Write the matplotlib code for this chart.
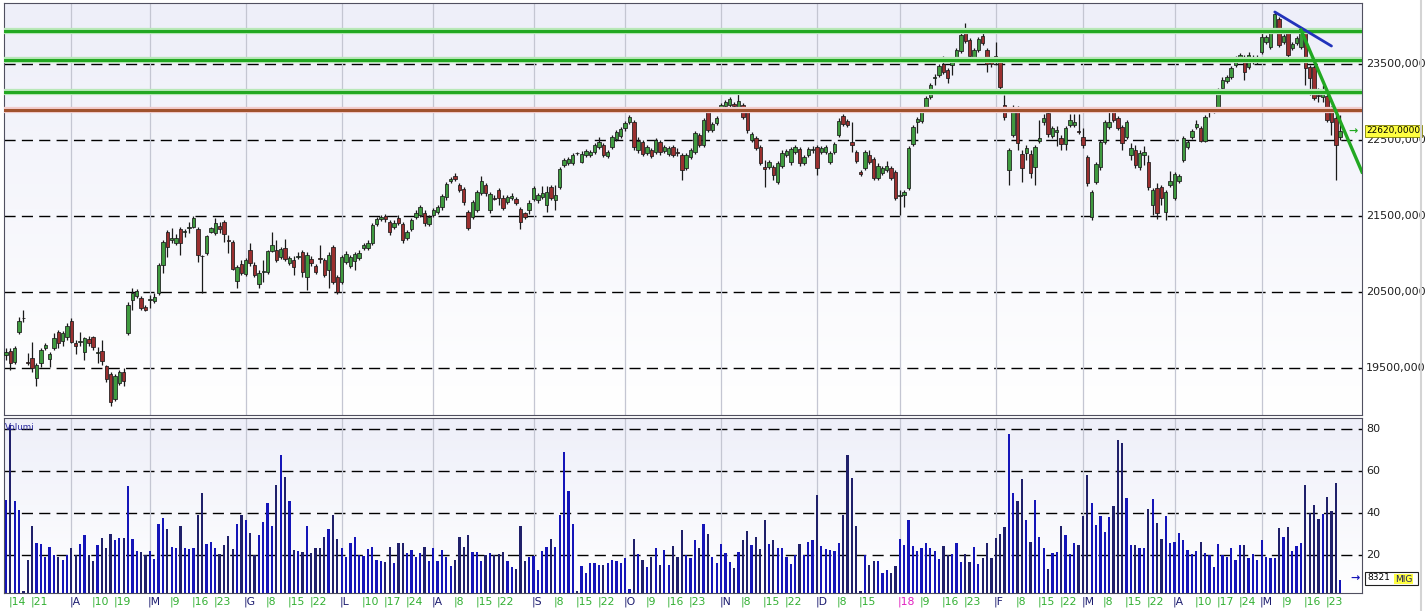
import matplotlib
matplotlib.use("Agg")
import matplotlib.pyplot as plt
from matplotlib.colors import LinearSegmentedColormap
from matplotlib.lines import Line2D
from matplotlib.patches import Rectangle
import numpy as np
import pandas as pd

# Borsa Italiana closing days inside the period
holidays = ["2017-04-14", "2017-04-17", "2017-05-01", "2017-12-25", "2017-12-26",
            "2018-01-01", "2018-03-30", "2018-04-02", "2018-05-01"]

opens = [
    19670, 19725, 19580, 19975, 20160, 19580, 19630, 19370, 19565, 19765,
    19620, 19765, 19975, 19855, 19910, 20120, 19830, 19840, 19710, 19880,
    19910, 19695, 19725, 19525, 19420, 19090, 19300, 19445, 19960, 20395,
    20445, 20420, 20300, 20395, 20380, 20485, 20855, 21290, 21185, 21145,
    21330, 21290, 21340, 21355, 21330, 20975, 21015, 21290, 21275, 21370,
    21420, 21185, 21160, 20645, 20870, 20735, 21050, 20855, 20605, 20765,
    20765, 21040, 21050, 20960, 21080, 20880, 20920, 20960, 21025, 20695,
    20935, 20840, 20945, 20920, 20790, 21090, 20695, 20630, 20895, 20840,
    20910, 20945, 21080, 21080, 21145, 21395, 21460, 21500, 21420, 21355,
    21475, 21395, 21210, 21330, 21485, 21515, 21540, 21395, 21515, 21555,
    21620, 21750, 21960, 22025, 21910, 21855, 21555, 21485, 21580, 21805,
    21910, 21580, 21735, 21840, 21735, 21685, 21735, 21725, 21590, 21540,
    21580, 21725, 21710, 21750, 21645, 21880, 21710, 21880, 22170, 22195,
    22195, 22330, 22210, 22305, 22305, 22340, 22410, 22435, 22290, 22410,
    22515, 22555, 22660, 22735, 22735, 22370, 22475, 22330, 22370, 22340,
    22475, 22355, 22315, 22410, 22340, 22305, 22130, 22275, 22340, 22565,
    22435, 22870, 22630, 22725, 22910, 22945, 22960, 22975, 22935, 22960,
    22870, 22500, 22525, 22410, 22145, 22145, 22145, 21945, 22160, 22305,
    22210, 22340, 22380, 22195, 22305, 22370, 22410, 22340, 22340, 22210,
    22340, 22565, 22815, 22750, 22475, 22340, 22080, 22130, 22305, 22250,
    22000, 22065, 22105, 22130, 22080, 21765, 21775, 21870, 22445, 22735,
    22750, 22910, 23065, 23315, 23355, 23500, 23420, 23485, 23580, 23670,
    23910, 23815, 23580, 23685, 23870, 23685, 23525, 23605, 23525, 22960,
    22105, 22565, 22870, 22315, 22330, 22315, 22145, 22485, 22735, 22855,
    22555, 22605, 22525, 22445, 22695, 22695, 22620, 22540, 22275, 21485,
    21945, 22145, 22475, 22670, 22870, 22790, 22670, 22540, 22305, 22370,
    22145, 22305, 22210, 21645, 21870, 21880, 21555, 21910, 21735, 21960,
    22235, 22410, 22540, 22670, 22660, 22485, 22870, 22880, 22895, 23185,
    23275, 23330, 23485, 23555, 23555, 23460, 23525, 23525, 23660, 23790,
    23725, 23945, 24090, 23790, 23910, 23710, 23775, 23725, 23910, 23460,
    23460, 23090, 23065, 23080, 22920, 22790, 22540,
]

highs = [
    19765, 19765, 19790, 20170, 20265, 19695, 19840, 19565, 19765, 19830,
    19710, 19960, 20000, 19985, 20090, 20160, 19870, 19975, 19910, 19920,
    19915, 19775, 19870, 19540, 19445, 19420, 19475, 19500, 20370, 20550,
    20540, 20445, 20330, 20460, 20485, 20880, 21185, 21315, 21340, 21265,
    21355, 21330, 21420, 21500, 21355, 20985, 21250, 21355, 21475, 21420,
    21445, 21250, 21185, 20855, 20920, 20945, 21145, 20895, 20790, 20920,
    21050, 21290, 21185, 21090, 21195, 20975, 20975, 21025, 21050, 21025,
    20975, 20870, 21120, 20945, 21025, 21120, 20725, 20985, 21040, 20985,
    21025, 21050, 21145, 21185, 21410, 21485, 21515, 21525, 21445, 21445,
    21515, 21420, 21315, 21475, 21580, 21645, 21580, 21515, 21605, 21645,
    21790, 21945, 22015, 22065, 21935, 21880, 21580, 21710, 21840, 22025,
    21935, 21815, 21775, 21870, 21775, 21775, 21805, 21750, 21620, 21555,
    21710, 21895, 21805, 21895, 21895, 21910, 21910, 22145, 22265, 22275,
    22330, 22340, 22355, 22380, 22370, 22460, 22540, 22460, 22370, 22565,
    22630, 22670, 22750, 22830, 22765, 22540, 22500, 22435, 22395, 22525,
    22500, 22435, 22420, 22435, 22395, 22330, 22330, 22395, 22620, 22590,
    22790, 22895, 22735, 22815, 22985, 23025, 23065, 23000, 23120, 22985,
    22895, 22605, 22555, 22435, 22235, 22235, 22170, 22225, 22370, 22380,
    22410, 22435, 22410, 22305, 22410, 22420, 22435, 22420, 22435, 22355,
    22475, 22790, 22840, 22775, 22735, 22370, 22105, 22370, 22370, 22275,
    22195, 22160, 22225, 22160, 22105, 21840, 21840, 22420, 22695, 22805,
    22895, 23080, 23250, 23370, 23500, 23605, 23445, 23565, 23710, 23908,
    24040, 23840, 23710, 23855, 23945, 23710, 23590, 23790, 23555, 23090,
    22395, 22960, 22945, 22370, 22435, 22370, 22435, 22765, 22840, 22870,
    22685, 22685, 22565, 22685, 22840, 22840, 22840, 22660, 22305, 21840,
    22210, 22500, 22765, 22870, 22895, 22815, 22695, 22765, 22460, 22435,
    22370, 22420, 22305, 21870, 21935, 21910, 21840, 22090, 22080, 22055,
    22555, 22500, 22645, 22765, 22685, 22830, 22920, 22935, 23185, 23330,
    23355, 23475, 23605, 23645, 23620, 23660, 23620, 23620, 23910, 23880,
    23945, 24185, 24120, 23895, 23945, 23790, 23870, 23945, 23935, 23485,
    23485, 23185, 23225, 23105, 22945, 22895, 22830,
]

lows = [
    19605, 19475, 19550, 19945, 20105, 19540, 19445, 19265, 19515, 19735,
    19515, 19735, 19765, 19790, 19870, 19830, 19685, 19790, 19605, 19790,
    19735, 19565, 19540, 19315, 19000, 19065, 19275, 19265, 19935, 20265,
    20420, 20265, 20250, 20290, 20355, 20460, 20750, 20960, 21145, 21120,
    20985, 21225, 21275, 21340, 20895, 20485, 20985, 21275, 21250, 21275,
    21160, 21015, 20790, 20550, 20725, 20710, 20840, 20695, 20550, 20630,
    20735, 21025, 20895, 20935, 20910, 20855, 20725, 20935, 20695, 20525,
    20840, 20735, 20880, 20695, 20550, 20605, 20475, 20605, 20870, 20815,
    20790, 20920, 21050, 21050, 21120, 21370, 21435, 21420, 21250, 21330,
    21380, 21145, 21185, 21305, 21460, 21485, 21370, 21370, 21485, 21525,
    21580, 21710, 21935, 21960, 21815, 21645, 21315, 21460, 21555, 21775,
    21765, 21540, 21710, 21645, 21580, 21660, 21710, 21645, 21330, 21460,
    21525, 21695, 21670, 21725, 21555, 21710, 21580, 21855, 22145, 22170,
    22170, 22305, 22195, 22275, 22275, 22315, 22380, 22275, 22265, 22380,
    22485, 22525, 22620, 22710, 22370, 22330, 22290, 22305, 22265, 22315,
    22305, 22330, 22290, 22275, 22290, 21975, 22105, 22250, 22315, 22410,
    22410, 22605, 22605, 22695, 22880, 22920, 22935, 22920, 22910, 22775,
    22590, 22475, 22370, 22170, 21880, 22120, 21975, 21920, 22130, 22275,
    22170, 22315, 22160, 22170, 22275, 22330, 22040, 22315, 22315, 22185,
    22315, 22540, 22685, 22670, 22340, 22195, 22025, 22105, 22185, 21975,
    21975, 22040, 22080, 21975, 21710, 21515, 21620, 21840, 22420, 22590,
    22725, 22880, 23040, 23225, 23330, 23370, 23250, 23355, 23555, 23645,
    23775, 23580, 23555, 23660, 23750, 23395, 23460, 23485, 23160, 22765,
    21910, 22540, 22370, 21945, 22235, 22000, 21910, 22460, 22695, 22540,
    22525, 22420, 22370, 22370, 22670, 22670, 22580, 22395, 21895, 21445,
    21920, 22105, 22445, 22645, 22735, 22630, 22370, 22515, 22235, 22130,
    22105, 22170, 21840, 21515, 21460, 21645, 21445, 21880, 21710, 21935,
    22210, 22380, 22515, 22645, 22480, 22480, 22805, 22855, 22870, 23160,
    23250, 23305, 23460, 23525, 23290, 23435, 23500, 23500, 23630, 23765,
    23700, 23920, 23725, 23765, 23525, 23685, 23750, 23700, 23225, 23090,
    23025, 23000, 23000, 22735, 22565, 21975, 22500,
]

closes = [
    19710, 19565, 19765, 20120, 20155, 19565, 19500, 19540, 19735, 19800,
    19685, 19895, 19830, 19960, 20050, 19840, 19790, 19855, 19895, 19830,
    19775, 19710, 19590, 19355, 19050, 19395, 19445, 19330, 20330, 20485,
    20515, 20290, 20265, 20410, 20435, 20855, 21160, 21090, 21210, 21210,
    21145, 21305, 21355, 21475, 20985, 20970, 21235, 21340, 21410, 21330,
    21265, 21170, 20800, 20830, 20750, 20920, 20880, 20725, 20750, 20775,
    21040, 21120, 20920, 21065, 20935, 20945, 20830, 20975, 20765, 20985,
    20880, 20765, 20940, 20725, 20985, 20630, 20500, 20960, 21000, 20960,
    21000, 21015, 21120, 21145, 21380, 21460, 21485, 21460, 21290, 21410,
    21410, 21185, 21290, 21445, 21540, 21620, 21410, 21485, 21580, 21620,
    21765, 21920, 21985, 21985, 21840, 21685, 21340, 21685, 21815, 21960,
    21805, 21790, 21730, 21735, 21605, 21750, 21765, 21670, 21420, 21485,
    21670, 21870, 21775, 21805, 21815, 21735, 21775, 22120, 22235, 22250,
    22305, 22325, 22315, 22355, 22340, 22435, 22475, 22305, 22340, 22540,
    22605, 22645, 22725, 22805, 22410, 22485, 22315, 22410, 22290, 22500,
    22340, 22410, 22395, 22305, 22335, 22105, 22305, 22370, 22590, 22435,
    22765, 22630, 22710, 22790, 22960, 23000, 23040, 22945, 23015, 22805,
    22630, 22580, 22395, 22195, 22120, 22210, 22040, 22195, 22330, 22355,
    22380, 22410, 22195, 22275, 22380, 22380, 22130, 22395, 22410, 22330,
    22445, 22750, 22710, 22695, 22435, 22225, 22055, 22340, 22210, 22000,
    22160, 22130, 22160, 22000, 21735, 21775, 21815, 22395, 22670, 22775,
    22870, 23055, 23225, 23330, 23475, 23395, 23315, 23540, 23685, 23880,
    23805, 23605, 23685, 23830, 23775, 23500, 23500, 23555, 23195, 22805,
    22370, 22935, 22460, 22130, 22395, 22065, 22410, 22525, 22790, 22580,
    22660, 22630, 22445, 22660, 22765, 22735, 22605, 22435, 21935, 21815,
    22185, 22475, 22735, 22735, 22765, 22660, 22460, 22735, 22395, 22170,
    22330, 22340, 21880, 21840, 21540, 21735, 21815, 21960, 22055, 22025,
    22525, 22475, 22620, 22710, 22485, 22805, 22880, 22895, 23160, 23290,
    23330, 23445, 23580, 23620, 23395, 23620, 23590, 23580, 23855, 23855,
    23920, 24160, 23750, 23870, 23620, 23765, 23840, 23920, 23445, 23315,
    23055, 23085, 23130, 22765, 22735, 22435, 22620,
]

volumes = [
    46.4, 82, 45.6, 41.3, 3, 17.6, 33.6, 25.8, 25.3, 18.9,
    24, 20, 18.9, 17.8, 20, 23.5, 20, 25.4, 29.6, 20,
    17.3, 24.8, 28.2, 23.5, 29.8, 26.9, 28.2, 28.2, 52.8, 27.4,
    22.1, 21.4, 19.8, 22.1, 18.1, 34.9, 37.8, 32.5, 24, 23.5,
    33.6, 23.5, 23, 23.5, 38.9, 49.6, 25.3, 26.4, 23.4, 20.5,
    24.8, 29, 22.9, 34.9, 38.9, 36.5, 30.6, 20, 29.3, 35.5,
    44.6, 33.6, 53.1, 67.7, 57, 45.6, 22.6, 22.1, 21.4, 33.6,
    21, 23.4, 23.5, 28.5, 32.2, 39.2, 27.7, 23.4, 19.2, 25.8,
    28.6, 20, 19.7, 23, 24, 17.6, 17.3, 16.8, 24, 16.2,
    25.8, 25.8, 21, 22.6, 19.2, 21, 24, 17.3, 23.5, 17.3,
    22.6, 19.2, 14.7, 17.6, 28.6, 24, 29.3, 21.6, 21.6, 17.3,
    20, 21, 20, 20.5, 21.4, 17.3, 14.4, 13.4, 33.6, 17.3,
    18.9, 19.7, 12.8, 22.1, 24, 27.4, 24, 38.9, 68.8, 50.4,
    34.9, 3, 14.6, 11.5, 16, 16, 15.4, 15.4, 16, 17.8,
    17, 16.3, 18.4, 4, 27.4, 20.5, 17.8, 14.1, 19.2, 23.4,
    15.4, 22.6, 15.4, 24.5, 19.2, 31.7, 20, 18.4, 26.9, 23.5,
    34.9, 29.8, 19.2, 16.2, 25.3, 21.1, 16.8, 13.9, 21.6, 26.9,
    31.2, 24.8, 28.6, 22.9, 36.8, 25.3, 27.2, 23.4, 23.4, 19.2,
    15.7, 20, 25.3, 20, 26.4, 26.9, 48.5, 24.3, 22.9, 22.6,
    21.9, 25.8, 38.9, 67.7, 56.5, 33.9, 3, 20, 15.2, 17.1,
    17.1, 11.4, 12.8, 11.4, 14.7, 27.4, 24.8, 36.8, 24.3, 22.1,
    23.4, 25.8, 23.4, 22.1, 18.2, 24.5, 20, 20.5, 25.8, 16.6,
    20.5, 16.8, 24, 15.7, 18.7, 25.8, 18.7, 28.3, 29.8, 33.1,
    77.8, 49.6, 45.6, 56, 36.5, 26.4, 46.1, 28.6, 23.5, 13.3,
    21.1, 21.6, 33.6, 29.3, 20.5, 25.8, 24.8, 38.4, 58.1, 44.6,
    34.2, 38.7, 30.7, 38.2, 43.5, 74.9, 73.3, 46.9, 24.8, 24.8,
    23.5, 23.5, 42.1, 46.6, 35.4, 27.4, 38.7, 25.8, 26.4, 30.6,
    26.9, 22.6, 20.5, 22.1, 26.4, 21.1, 20, 14.1, 25.3, 20,
    19.2, 23.5, 17.6, 24.8, 24.6, 18.7, 20.5, 17.8, 26.9, 19.2,
    18.7, 18.7, 32.8, 28.5, 33.1, 22.1, 24.5, 25.8, 53.3, 40.2,
    44, 37, 39.7, 47.6, 41.1, 54.4, 8.3,
]

# drawn levels and trendlines
green_levels = [23935, 23555, 23130]
brown_level = 22900
blue_trend_bars = [291, 304]
blue_trend_prices = [24185, 23737]
green_trend_bars = [297, 311]
green_trend_prices = [23947, 22079]

price_ticks = [19500, 20500, 21500, 22500, 23500]
volume_ticks = [20, 40, 60, 80]
last_price_label = "22620,0000"
last_volume_label = "8321"

tick_dates = ["2017-03-14", "2017-03-21", "2017-04-03", "2017-04-10", "2017-04-19",
              "2017-05-02", "2017-05-09", "2017-05-16", "2017-05-23", "2017-06-01",
              "2017-06-08", "2017-06-15", "2017-06-22", "2017-07-03", "2017-07-10",
              "2017-07-17", "2017-07-24", "2017-08-01", "2017-08-08", "2017-08-15",
              "2017-08-22", "2017-09-01", "2017-09-08", "2017-09-15", "2017-09-22",
              "2017-10-02", "2017-10-09", "2017-10-16", "2017-10-23", "2017-11-01",
              "2017-11-08", "2017-11-15", "2017-11-22", "2017-12-01", "2017-12-08",
              "2017-12-15", "2018-01-02", "2018-01-09", "2018-01-16", "2018-01-23",
              "2018-02-01", "2018-02-08", "2018-02-15", "2018-02-22", "2018-03-01",
              "2018-03-08", "2018-03-15", "2018-03-22", "2018-04-03", "2018-04-10",
              "2018-04-17", "2018-04-24", "2018-05-02", "2018-05-09", "2018-05-16",
              "2018-05-23"]
tick_texts = ["14", "21", "A", "10", "19", "M", "9", "16", "23", "G",
              "8", "15", "22", "L", "10", "17", "24", "A", "8", "15",
              "22", "S", "8", "15", "22", "O", "9", "16", "23", "N",
              "8", "15", "22", "D", "8", "15", "18", "9", "16", "23",
              "F", "8", "15", "22", "M", "8", "15", "22", "A", "10",
              "17", "24", "M", "9", "16", "23"]

n = len(closes)
assert len(opens) == n and len(highs) == n and len(lows) == n and len(volumes) == n

days = pd.bdate_range("2017-03-13", "2018-06-29")
days = days[~days.isin(pd.to_datetime(holidays))][:n]
pos = {d: i for i, d in enumerate(days)}

o = np.array(opens, float)
h = np.array(highs, float)
l = np.array(lows, float)
c = np.array(closes, float)
x = np.arange(n)
up = c >= o

W, H = 1425, 611
fig = plt.figure(figsize=(W / 100, H / 100), dpi=100)


def box(left, top, right, bottom):
    return [left / W, 1 - bottom / H, (right - left) / W, (bottom - top) / H]


ax = fig.add_axes(box(4, 3, 1362, 415))
axv = fig.add_axes(box(4, 418, 1362, 593))

grad = LinearSegmentedColormap.from_list("bg", ["#ffffff", "#eeeff9"])
for a in (ax, axv):
    a.imshow(np.linspace(0, 1, 100).reshape(-1, 1)[::-1], cmap=grad, aspect="auto",
             extent=[0, 1, 0, 1], transform=a.transAxes, zorder=0)
    for s in a.spines.values():
        s.set_color("#505060")
        s.set_linewidth(0.8)
    a.set_xticks([])
    a.set_yticks([])
    a.set_xlim(-0.45, 311.0)

ax.set_ylim(18882, 24303)
axv.set_ylim(1.9, 85.2)

dash = (0, (8, 4.5))
for v in price_ticks:
    ax.axhline(v, color="black", lw=1, ls=dash, zorder=1)
    ax.text(1.003, v, f"{v},000", transform=ax.get_yaxis_transform(), fontsize=8,
            va="center", ha="left", color="#202020", clip_on=False)
for v in volume_ticks:
    axv.axhline(v, color="black", lw=1, ls=dash, zorder=1)
    axv.text(1.003, v, str(v), transform=axv.get_yaxis_transform(), fontsize=8,
             va="center", ha="left", color="#202020", clip_on=False)

# month separators and date labels
for d, t in zip(tick_dates, tick_texts):
    i = pos[pd.Timestamp(d)]
    if t.isalpha() or t == "18":
        for a in (ax, axv):
            a.axvline(i, color="#c4c6d2", lw=0.9, zorder=1)
    if t == "18":
        col = "#e020c0"
    elif t.isalpha():
        col = "#1c1c70"
    else:
        col = "#33b033"
    axv.text(i - 0.4, -0.05, "|" + t, transform=axv.get_xaxis_transform(), fontsize=7.8,
             color=col, ha="left", va="center", clip_on=False)

# candles
ax.vlines(x, np.minimum(l, np.minimum(o, c)), np.maximum(h, np.maximum(o, c)),
          color="#1a1a1a", lw=0.9, zorder=3)
ax.bar(x, np.maximum(np.abs(c - o), 8), bottom=np.minimum(o, c), width=0.78,
       color=np.where(up, "#3f9a3f", "#9a2f2f"), edgecolor="#1a1a1a", lw=0.55, zorder=4)

# support / resistance levels
for v in green_levels:
    ax.axhline(v, color="#b8e8b8", lw=4.5, zorder=5)
    ax.axhline(v, color="#22a822", lw=2.2, zorder=6)
ax.axhline(brown_level, color="#f2cccc", lw=4.5, zorder=5)
ax.axhline(brown_level, color="#a0522d", lw=2.2, zorder=6)

ax.plot(blue_trend_bars, blue_trend_prices, color="#2233bb", lw=2, zorder=7,
        solid_capstyle="round")
ax.plot(green_trend_bars, green_trend_prices, color="#22a822", lw=2.4, zorder=7)

# volume
axv.bar(x, volumes, width=0.52, color=np.where(up, "#1515b8", "#20206a"), zorder=3)

# side labels
ax.text(1.003, c[-1], last_price_label, transform=ax.get_yaxis_transform(), fontsize=6.5,
        va="center", ha="left", color="black", clip_on=False,
        bbox=dict(boxstyle="square,pad=0.15", fc="#ffff40", ec="#808000", lw=0.6))
ax.text(0.9935, c[-1], "\u2192", transform=ax.get_yaxis_transform(), fontsize=8,
        va="center", ha="center", color="#22a822", fontweight="bold", clip_on=False)

fig.add_artist(Rectangle((1365 / W, 1 - 585 / H), 53 / W, 13 / H, transform=fig.transFigure,
                         fc="white", ec="#202020", lw=0.8))
fig.text(1367 / W, 1 - 578 / H, last_volume_label, fontsize=6.5, va="center", ha="left",
         color="black")
fig.text(1395 / W, 1 - 579 / H, "MIG", fontsize=6.5, va="center", ha="left",
         color="#1a1a60", bbox=dict(boxstyle="square,pad=0.1", fc="#ffff40", ec="none"))
fig.text(1355 / W, 1 - 578 / H, "\u2192", fontsize=8, va="center", ha="center",
         color="#1515b8", fontweight="bold")

fig.text(5 / W, 1 - 428 / H, "Volumi", fontsize=6.3, va="center", ha="left",
         color="#2a2aa0")

fig.add_artist(Line2D([1421 / W] * 2, [0, 1], color="#d4d4d4", lw=1.5))

fig.savefig("out.png", dpi=100)
